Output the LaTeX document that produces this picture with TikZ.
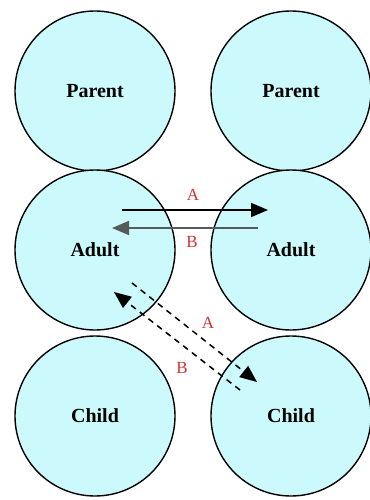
\documentclass[tikz,border=0pt]{standalone}
\usepackage{fontspec}
\setmainfont{Liberation Serif}
\usetikzlibrary{calc,positioning,arrows.meta}
\definecolor{cellfill}{RGB}{204,250,252}
\definecolor{labred}{RGB}{210,50,50}
\definecolor{backgray}{RGB}{85,90,90}

\begin{document}
\begin{tikzpicture}[x=1pt,y=-1pt,
	main/.style = {draw, circle, minimum size=160pt, fill=cellfill, line width=1.4pt, font=\fontsize{20}{23}\selectfont\bfseries},
	lab/.style = {text=labred, font=\fontsize{17}{19}\selectfont},
	flow/.style = {line width=1.8pt, -{Triangle[length=17pt,width=14pt]}}]
	\useasboundingbox (0,0) rectangle (369,500);
	\node[main] (p1) at (95,91) {Parent};
	\node[main] (p2) at (291,91) {Parent};
	\node[main] (a1) at (95,250) {Adult};
	\node[main] (a2) at (291,250) {Adult};
	\node[main] (c1) at (95,416) {Child};
	\node[main] (c2) at (291,416) {Child};
	% adult to adult
	\coordinate (sa) at (122,210);
	\coordinate (ta) at (268,210);
	\coordinate (sb) at (258,228);
	\coordinate (tb) at (112,228);
	\draw[flow] (sa) -- (ta);
	\draw[flow, backgray] (sb) -- (tb);
	\node[lab] (la) at (193,195) {A};
	\node[lab] (lb) at (192,242) {B};
	% adult to child
	\coordinate (sc) at (132,283);
	\coordinate (tc) at (257,382);
	\coordinate (sd) at (240,390);
	\coordinate (td) at (114,292);
	\draw[flow, line width=1.5pt, dash pattern=on 6pt off 5pt] (sc) -- (tc);
	\draw[flow, line width=1.5pt, dash pattern=on 6pt off 5pt] (sd) -- (td);
	\node[lab] (lc) at (208,323) {A};
	\node[lab] (ld) at (182,368) {B};
\end{tikzpicture}
\end{document}
